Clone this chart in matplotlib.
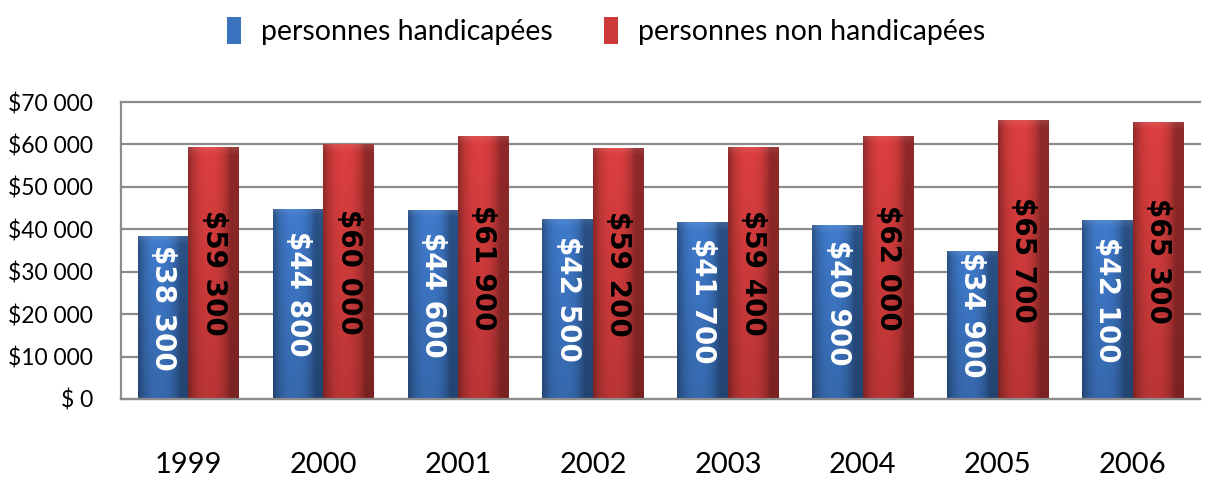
import numpy as np
import matplotlib
matplotlib.use("Agg")
import matplotlib.pyplot as plt
from matplotlib.patches import Patch
from matplotlib.colors import to_rgb
from matplotlib import font_manager

years = ["1999", "2000", "2001", "2002", "2003", "2004", "2005", "2006"]
handicapees = [38300, 44800, 44600, 42500, 41700, 40900, 34900, 42100]
non_handicapees = [59300, 60000, 61900, 59200, 59400, 62000, 65700, 65300]
series_names = ["personnes handicapées", "personnes non handicapées"]
yticks = [0, 10000, 20000, 30000, 40000, 50000, 60000, 70000]
ytick_labels = ["$ 0", "$10 000", "$20 000", "$30 000", "$40 000", "$50 000", "$60 000", "$70 000"]

blue = "#3b72bd"
red = "#cc3a3a"

available = {f.name for f in font_manager.fontManager.ttflist}
narrow_pref = [f for f in ["Liberation Sans Narrow", "Lato", "Roboto"] if f in available]
narrow = narrow_pref[:1] + ["DejaVu Sans"]

fig = plt.figure(figsize=(12.12, 4.83), dpi=100)
ax = fig.add_axes([121/1212, 84/483, 1079/1212, 297/483])

x = np.arange(len(years))
w = 0.375
b1 = ax.bar(x - w/2, handicapees, w, color=blue, zorder=2, linewidth=0)
b2 = ax.bar(x + w/2, non_handicapees, w, color=red, zorder=2, linewidth=0)


def shade_bar(rect, base):
    x0 = rect.get_x()
    wd = rect.get_width()
    h = rect.get_height()
    ny, nx = 400, 60
    c = np.array(to_rgb(base))
    xs = np.linspace(0, 1, nx)
    hx = 1.04 - 0.9 * np.abs(xs - 0.42) ** 2.5 * 3.5
    hx = np.clip(hx, 0.68, 1.05)
    ys = np.linspace(0, 1, ny)  # 0 bottom, 1 top
    vy = 0.88 + 0.16 * ys
    shade = vy[:, None] * hx[None, :]
    img = c[None, None, :] * shade[:, :, None]
    # soft bevel at top
    bev = 1900.0 / h
    t = np.clip((ys - (1 - bev)) / bev, 0, 1)
    lift = 0.10 * t
    img = img + lift[:, None, None] * (1 - img)
    img = np.clip(img, 0, 1)
    im = ax.imshow(img, extent=(x0, x0 + wd, 0, h), origin="lower",
                   aspect="auto", zorder=2.1, interpolation="bilinear")
    im.set_clip_path(rect)


for r in b1:
    shade_bar(r, blue)
for r in b2:
    shade_bar(r, red)

for xi, v in zip(x - w/2, handicapees):
    ax.text(xi, v/2 + 2300, f"${v//1000} {v%1000:03d}", rotation=270,
            ha="center", va="center", color="white", fontsize=20,
            fontweight="bold", family="DejaVu Sans", zorder=4)
for xi, v in zip(x + w/2, non_handicapees):
    ax.text(xi, v/2, f"${v//1000} {v%1000:03d}", rotation=270,
            ha="center", va="center", color="black", fontsize=20,
            fontweight="bold", family="DejaVu Sans", zorder=4)

ax.set_xlim(-0.5, len(years) - 0.5)
ax.set_ylim(0, 70000)
ax.set_yticks(yticks)
ax.set_yticklabels(ytick_labels, family=narrow, fontsize=16.5)
ax.set_xticks(x)
ax.set_xticklabels(years, family=narrow, fontsize=21)
ax.tick_params(axis="y", length=0, pad=20)
ax.tick_params(axis="x", length=0, pad=38)

ax.yaxis.grid(True, color="#8c8c8c", linewidth=1.6, zorder=1)
ax.set_axisbelow(True)
for gl in ax.get_ygridlines():
    gl.set_clip_on(False)
for s in ["top", "right"]:
    ax.spines[s].set_visible(False)
for s in ["left", "bottom"]:
    ax.spines[s].set_color("#8c8c8c")
    ax.spines[s].set_linewidth(1.6)

handles = [Patch(facecolor=blue, edgecolor="none"), Patch(facecolor=red, edgecolor="none")]
fig.legend(handles, series_names, loc="upper center", bbox_to_anchor=(0.5, 1.0),
           ncol=2, frameon=False, prop={"family": narrow, "size": 20.5},
           handlelength=0.5, handleheight=1.1, handletextpad=0.7,
           columnspacing=1.8, borderaxespad=0.2)

fig.savefig("out.png", dpi=100)
